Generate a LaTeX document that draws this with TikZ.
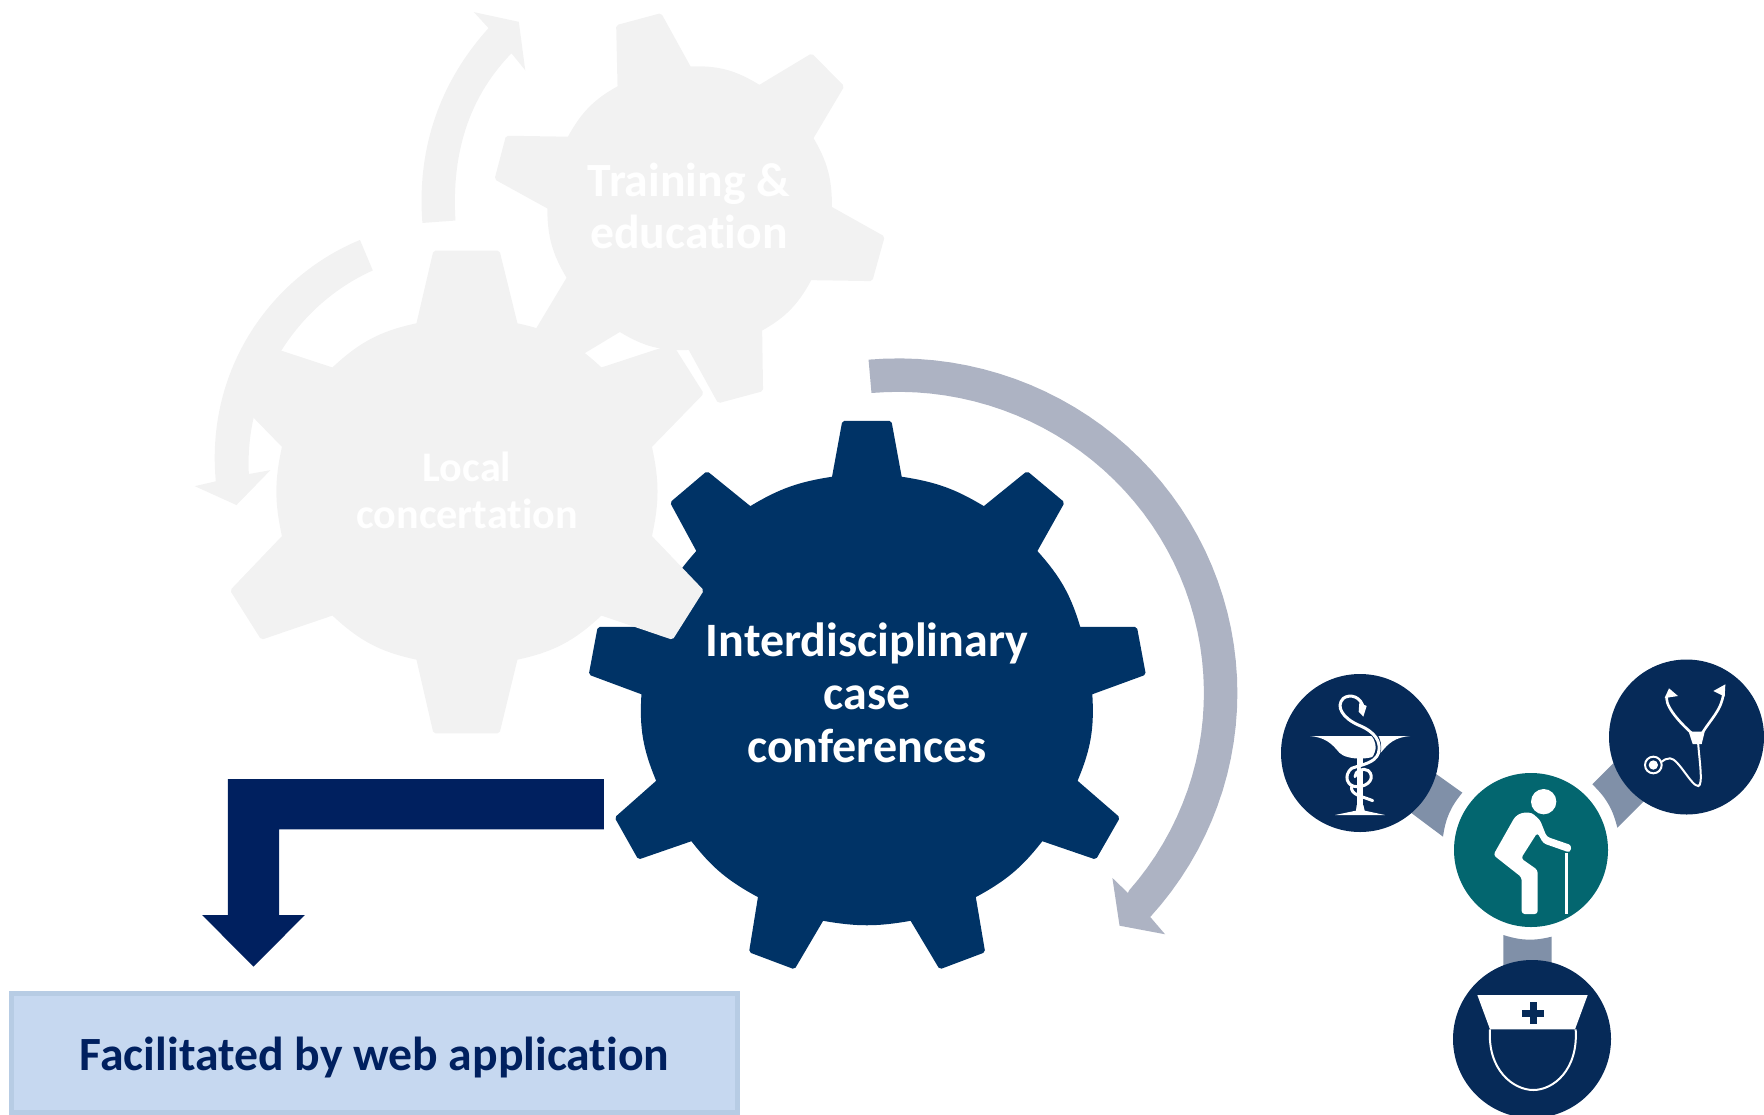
\documentclass[tikz,border=0pt]{standalone}
\usepackage{fontspec}
\setmainfont[Ligatures=CommonOff,Contextuals=NoAlternate]{Carlito}
\definecolor{gearnavy}{HTML}{003366}
\definecolor{iconnavy}{HTML}{062A58}
\definecolor{tealc}{HTML}{03666F}
\definecolor{deepnavy}{HTML}{00205F}
\definecolor{grayarrow}{HTML}{ADB3C3}
\definecolor{bandc}{HTML}{8090A8}
\definecolor{lightg}{HTML}{F2F2F2}
\definecolor{boxfill}{HTML}{C6D8F0}
\definecolor{boxline}{HTML}{B7CCE4}
\tikzset{
  iconcircle/.style={circle,fill=iconnavy,inner sep=0pt},
  geartext/.style={align=center,text=white,inner sep=0pt},
  bl/.style={bend left=#1},
  rc/.style={rounded corners=2pt},
  sc/.style={sharp corners},
  snake/.style={draw=white,line width=3pt,line cap=round,line join=round},
  snakeedge/.style={draw=iconnavy,line width=5.5pt,line cap=round,line join=round},
}
\begin{document}
\begin{tikzpicture}[x=1pt,y=-1pt]
\clip (0,0) rectangle (1764,1114);
\useasboundingbox (0,0) rectangle (1764,1114);
% navy gear and its arrow
\begin{scope}[xshift=570pt,yshift=-340pt,xscale=1/2.24,yscale=1/2.45]
\fill[gearnavy]
 (587,335) [rc] --(610,198)--(720,198) [sc] -- (743,335) to[bl=12] (927,407) [rc] --(1024,321)--(1108,398) [sc] -- (1047,517)
 to[bl=12] (1143,703) [rc] --(1270,703)--(1290,820) [sc] -- (1170,868)
 to[bl=12] (1137,1080) [rc] --(1232,1170)--(1178,1273) [sc] -- (1058,1228)
 to[bl=12] (909,1365) [rc] --(930,1500)--(828,1542) [sc] -- (763,1423)
 to[bl=11] (567,1423) [rc] --(503,1542)--(401,1500) [sc] -- (421,1365)
 to[bl=12] (272,1228) [rc] --(153,1273)--(100,1170) [sc] -- (193,1080)
 to[bl=12] (160,868) [rc] --(42,820)--(62,703) [sc] -- (187,703)
 to[bl=12] (283,517) [rc] --(224,398)--(307,321) [sc] -- (404,407)
 to[bl=12] cycle;
\fill[grayarrow] plot[domain=95:-42,samples=50] ({735+760*cos(\x)},{865-820*sin(\x)})
 -- (1333,1456) -- (1231,1435) -- (1215,1318) -- (1250,1355)
 -- plot[domain=-41:95,samples=50] ({735+685*cos(\x)},{865-738*sin(\x)}) -- cycle;
\end{scope}
% faded gears and arrows
\begin{scope}[xshift=180pt,xscale=1/2.178,yscale=1/2.063]
\fill[lightg]
 (953,178) [rc] --(950,52)--(1048,27) [sc] -- (1112,137) to[bl=16] (1262,175) [rc] --(1376,110)--(1447,178) [sc] -- (1380,285)
 to[bl=16] (1420,427) [rc] --(1535,488)--(1508,580) [sc] -- (1375,578)
 to[bl=16] (1268,682) [rc] --(1270,807)--(1172,832) [sc] -- (1108,722)
 to[bl=16] (958,685) [rc] --(844,750)--(773,682) [sc] -- (842,573)
 to[bl=16] (800,430) [rc] --(685,370)--(710,280) [sc] -- (845,282)
 to[bl=16] cycle;
\fill[lightg]
 (515,667) [rc] --(552,517)--(696,517) [sc] -- (735,667) to[bl=15] (918,758) [rc] --(1073,710)--(1141,812) [sc] -- (1028,922)
 to[bl=13] (1028,1106) [rc] --(1141,1218)--(1073,1320) [sc] -- (918,1270)
 to[bl=15] (735,1361) [rc] --(696,1513)--(552,1513) [sc] -- (515,1361)
 to[bl=15] (332,1270) [rc] --(177,1320)--(109,1218) [sc] -- (222,1106)
 to[bl=13] (222,922) [rc] --(109,812)--(177,710) [sc] -- (332,758)
 to[bl=15] cycle;
\fill[lightg] (528,460) .. controls (515,300) and (570,165) .. (672,58)
 -- (640,25) -- (738,45) -- (752,145) -- (722,110)
 .. controls (640,190) and (590,300) .. (600,455) -- cycle;
\fill[lightg] (392,495) .. controls (200,570) and (55,760) .. (78,993)
 -- (32,1003) -- (123,1042) -- (197,970) -- (150,978)
 .. controls (140,800) and (250,630) .. (420,558) -- cycle;
\end{scope}
% bent arrow
\begin{scope}[yshift=-740pt,xscale=1/2.063,yscale=1/3]
\fill[deepnavy] (1246,117)--(470,117)--(470,525)--(417,525)--(523,680)--(629,525)--(576,525)--(576,268)--(1246,268)--cycle;
\end{scope}
% box
\draw[fill=boxfill,draw=boxline,line width=5pt] (11.5,993) rectangle (737.5,1112);
% labels
\node[geartext,font=\bfseries\fontsize{48}{52.5}\selectfont,anchor=base] (inter) at (867,656) {Interdisciplinary};
\node[geartext,font=\bfseries\fontsize{48}{52.5}\selectfont,anchor=base] (inter2) at (867,709) {case};
\node[geartext,font=\bfseries\fontsize{48}{52.5}\selectfont,anchor=base] (inter3) at (867,762) {conferences};
\node[geartext,font=\bfseries\fontsize{47.7}{52}\selectfont,anchor=base] (train1) at (689,196) {Training \&};
\node[geartext,font=\bfseries\fontsize{47.7}{52}\selectfont,anchor=base] (train2) at (689,248) {education};
\node[geartext,font=\bfseries\fontsize{42.2}{47}\selectfont,anchor=base] (local1) at (467,481) {Local};
\node[geartext,font=\bfseries\fontsize{42.2}{47}\selectfont,anchor=base] (local2) at (467,528) {concertation};
\node[inner sep=0pt,text=deepnavy,font=\bfseries\fontsize{47.7}{50}\selectfont,anchor=base] (fac) at (374.5,1070.5) {Facilitated by web application};
% bands
\begin{scope}[xshift=1260pt,yshift=-640pt,scale=1/3]
\fill[bandc] (520,396)--(607,458) to[bl=-15.6] (549,590)--(450,516)--cycle;
\fill[bandc] (1070,360)--(997,433) to[bl=16] (1072,563)--(1160,475)--cycle;
\fill[bandc] (730,885) to[bl=-15.6] (875,890)--(875,990)--(730,990)--cycle;
\end{scope}
% circles
\node[iconcircle,minimum size=158pt] (pharm) at (1360,753) {};
\node[iconcircle,minimum size=155pt] (stetho) at (1686.5,737) {};
\node[circle,fill=tealc,inner sep=0pt,minimum size=154pt] (patient) at (1531,850) {};
\node[iconcircle,minimum size=158pt] (nurse) at (1532,1039) {};
% patient and nurse icons
\begin{scope}[xshift=1260pt,yshift=-640pt,scale=1/3]
\fill[white] (851,485) circle[radius=38];
\fill[white,rounded corners=3pt] (700,645)--(765,530)--(785,518)--(815,518)--(840,540)--(860,590)--(935,616)--(930,638)--(850,610)--(832,578)--(783,655)--(833,690)--(833,822)--(785,822)--(785,712)--cycle;
\fill[white] (915,638) rectangle (925,822);
\fill[white] (652,1065)--(983,1065)--(945,1168)--(690,1168)--cycle;
\fill[iconnavy] (809,1087) rectangle (831,1153);
\fill[iconnavy] (787,1109) rectangle (853,1131);
\draw[white,line width=2pt] (690,1168) .. controls (682,1290) and (760,1350) .. (820,1350) .. controls (880,1350) and (955,1290) .. (947,1168);
\end{scope}
% pharmacy icon
\begin{scope}[xshift=1300pt,yshift=-680pt,scale=1/3]
\fill[white] (170,375)--(168,392)--(105,405)--(255,405)--(194,392)--(190,375)--cycle;
\fill[white] (172,230) rectangle (190,395);
\fill[white] (30,168)--(330,168) .. controls (285,172) and (265,190) .. (245,215) .. controls (225,242) and (140,242) .. (118,218) .. controls (95,190) and (75,172) .. (30,168)--cycle;
\path[snakeedge] (205,150) .. controls (250,175) and (245,240) .. (190,262);
\path[snake] (190,85) .. controls (185,50) and (150,40) .. (130,55) .. controls (105,80) and (130,115) .. (175,135) .. controls (225,155) and (245,185) .. (235,220) .. controls (225,250) and (180,255) .. (155,265) .. controls (130,285) and (140,320) .. (170,320) .. controls (210,320) and (225,290) .. (205,272) .. controls (190,262) and (165,272) .. (165,290);
\path[snake] (155,320) .. controls (150,345) and (190,350) .. (218,362);
\fill[white] (178,68)--(200,78)--(190,110)--(176,95)--cycle;
\end{scope}
% stethoscope icon
\begin{scope}[xshift=1620pt,yshift=-670pt,scale=1/3]
\draw[white,line width=2.6pt] (142,75) .. controls (130,100) and (170,150) .. (218,192);
\draw[white,line width=2.6pt] (310,72) .. controls (305,120) and (270,150) .. (245,192);
\fill[white] (206,185)--(254,185)--(245,222)--(218,222)--cycle;
\draw[white,line width=2pt] (234,215) .. controls (238,270) and (250,345) .. (235,348) .. controls (215,350) and (175,265) .. (150,265) .. controls (140,265) and (130,270) .. (125,275);
\fill[white] (134,84)--(147,55)--(174,78)--cycle;
\fill[white] (280,63)--(316,43)--(314,80)--cycle;
\draw[white,line width=2pt] (100,285) circle[radius=25];
\fill[white] (100,285) circle[radius=14];
\end{scope}
\end{tikzpicture}
\end{document}
